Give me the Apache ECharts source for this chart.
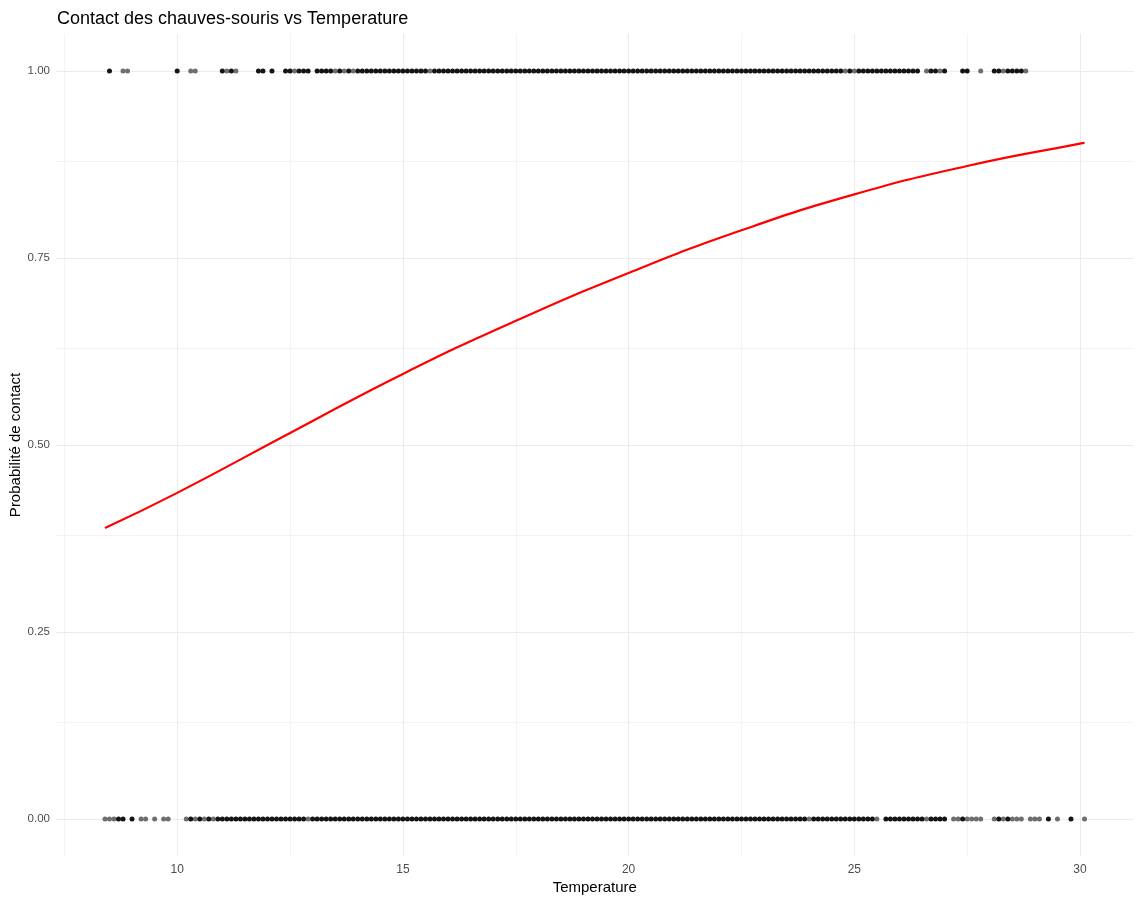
<!DOCTYPE html>
<html>
<head>
<meta charset="utf-8">
<title>Contact des chauves-souris vs Temperature</title>
<script src="https://cdn.jsdelivr.net/npm/echarts@6/dist/echarts.min.js"></script>
<style>
	html, body { margin: 0; padding: 0; background: #fff; }
	#chart { width: 1141px; height: 900px; }
</style>
</head>
<body>
<div id="chart"></div>
<script>
// temperatures des contacts (=1), en dixièmes de degré
var contactT10 = [
	85, 88, 89, 100, 103, 104, 110, 111, 112, 113, 118, 119, 121,
	124, 125, 126, 127, 128, 129,
	131, 132, 133, 134, 135, 136, 137, 138, 139, 140,
	141, 142, 143, 144, 145, 146, 147, 148, 149, 150,
	151, 152, 153, 154, 155, 156, 157, 158, 159, 160,
	161, 162, 163, 164, 165, 166, 167, 168, 169, 170,
	171, 172, 173, 174, 175, 176, 177, 178, 179, 180,
	181, 182, 183, 184, 185, 186, 187, 188, 189, 190,
	191, 192, 193, 194, 195, 196, 197, 198, 199, 200,
	201, 202, 203, 204, 205, 206, 207, 208, 209, 210,
	211, 212, 213, 214, 215, 216, 217, 218, 219, 220,
	221, 222, 223, 224, 225, 226, 227, 228, 229, 230,
	231, 232, 233, 234, 235, 236, 237, 238, 239, 240,
	241, 242, 243, 244, 245, 246, 247, 248, 249, 250,
	251, 252, 253, 254, 255, 256, 257, 258, 259, 260,
	261, 262, 263, 264,
	266, 267, 268, 269, 270, 274, 275, 278,
	281, 282, 283, 284, 285, 286, 287, 288
];
// celles qui n'apparaissent qu'une fois (points clairs)
var contactSingleT10 = [88, 89, 103, 104, 111, 113, 126, 135, 137, 139, 156, 248, 250, 266, 269, 278, 283, 288];

// temperatures sans contact (=0)
var noContactT10 = [
	84, 85, 86, 87, 88, 90, 92, 93, 95, 97, 98,
	102, 103, 104, 105, 106, 107, 108, 109, 110,
	111, 112, 113, 114, 115, 116, 117, 118, 119, 120,
	121, 122, 123, 124, 125, 126, 127, 128, 129, 130,
	131, 132, 133, 134, 135, 136, 137, 138, 139, 140,
	141, 142, 143, 144, 145, 146, 147, 148, 149, 150,
	151, 152, 153, 154, 155, 156, 157, 158, 159, 160,
	161, 162, 163, 164, 165, 166, 167, 168, 169, 170,
	171, 172, 173, 174, 175, 176, 177, 178, 179, 180,
	181, 182, 183, 184, 185, 186, 187, 188, 189, 190,
	191, 192, 193, 194, 195, 196, 197, 198, 199, 200,
	201, 202, 203, 204, 205, 206, 207, 208, 209, 210,
	211, 212, 213, 214, 215, 216, 217, 218, 219, 220,
	221, 222, 223, 224, 225, 226, 227, 228, 229, 230,
	231, 232, 233, 234, 235, 236, 237, 238, 239, 240,
	241, 242, 243, 244, 245, 246, 247, 248, 249, 250,
	251, 252, 253, 254, 255,
	257, 258, 259, 260, 261, 262, 263, 264, 265, 266,
	267, 268, 269, 270,
	272, 273, 274, 275, 276, 277, 278,
	281, 282, 283, 284, 285, 286, 287,
	289, 290, 291, 293, 295, 298, 301
];
var noContactSingleT10 = [84, 85, 86, 92, 93, 95, 97, 98, 102, 104, 106, 108, 129, 240, 255, 266,
	272, 273, 275, 276, 277, 278, 281, 283, 285, 286, 287, 289, 290, 291, 295, 301];

// courbe logistique
var curveTemp = [8.4, 10, 12.5, 15, 17.5, 20, 22.5, 25, 27.5, 30, 30.1];
var curveProb = [0.389, 0.436, 0.516, 0.595, 0.666, 0.730, 0.787, 0.835, 0.873, 0.903, 0.904];

// graduations
var xMajor = [10, 15, 20, 25, 30];
var xMinor = [7.5, 12.5, 17.5, 22.5, 27.5];
var yMajor = [0, 0.25, 0.5, 0.75, 1];
var yMinor = [0.125, 0.375, 0.625, 0.875];

function splitPoints(t10, singles, y) {
	var many = [], one = [];
	for (var i = 0; i < t10.length; i++) {
		var p = [t10[i] / 10, y];
		if (singles.indexOf(t10[i]) >= 0) one.push(p); else many.push(p);
	}
	return { many: many, one: one };
}

var c1 = splitPoints(contactT10, contactSingleT10, 1);
var c0 = splitPoints(noContactT10, noContactSingleT10, 0);

function gl(key, v, color) {
	var d = { lineStyle: { color: color, width: 1, type: "solid" } };
	d[key] = v;
	return d;
}
var gridLines = [];
xMinor.forEach(function (v) { gridLines.push(gl("xAxis", v, "#f3f3f3")); });
yMinor.forEach(function (v) { gridLines.push(gl("yAxis", v, "#f3f3f3")); });
xMajor.forEach(function (v) { gridLines.push(gl("xAxis", v, "#ebebeb")); });
yMajor.forEach(function (v) { gridLines.push(gl("yAxis", v, "#ebebeb")); });

var curveData = curveTemp.map(function (t, i) { return [t, curveProb[i]]; });

var font = "'Liberation Sans', Arial, sans-serif";

function pointSeries(data, color) {
	return {
		type: "scatter",
		data: data,
		symbol: "circle",
		symbolSize: 5,
		itemStyle: { color: color, opacity: 1, borderWidth: 0 },
		emphasis: { disabled: true },
		silent: true,
		z: 3
	};
}

var myChart = echarts.init(document.getElementById("chart"));
myChart.setOption({
	animation: false,
	backgroundColor: "#fff",
	title: {
		text: "Contact des chauves-souris vs Temperature",
		left: 52,
		top: 5,
		textStyle: { fontFamily: font, fontSize: 18, fontWeight: "normal", color: "#000" }
	},
	grid: { left: 56, right: 7.5, top: 33.6, bottom: 43.6, containLabel: false, outerBoundsMode: "none" },
	xAxis: {
		type: "value",
		min: 7.315,
		max: 31.185,
		name: "Temperature",
		nameLocation: "middle",
		nameGap: 20,
		nameTextStyle: { fontFamily: font, fontSize: 15, color: "#000" },
		axisLine: { show: false },
		axisTick: { show: false },
		splitLine: { show: false },
		axisLabel: {
			customValues: xMajor,
			margin: 7,
			fontFamily: font,
			fontSize: 12,
			color: "#4d4d4d"
		}
	},
	yAxis: {
		type: "value",
		min: -0.05,
		max: 1.05,
		name: "Probabilité de contact",
		nameLocation: "middle",
		nameGap: 33,
		nameMoveOverlap: false,
		nameRotate: 90,
		nameTextStyle: { fontFamily: font, fontSize: 15, color: "#000" },
		axisLine: { show: false },
		axisTick: { show: false },
		splitLine: { show: false },
		axisLabel: {
			customValues: yMajor,
			margin: 6,
			fontFamily: font,
			fontSize: 11.5,
			color: "#4d4d4d",
			formatter: function (v) { return v.toFixed(2); }
		}
	},
	series: [
		{
			type: "line",
			data: [],
			silent: true,
			z: 0,
			markLine: {
				silent: true,
				z: 0,
				symbol: "none",
				label: { show: false },
				emphasis: { disabled: true },
				animation: false,
				data: gridLines
			}
		},
		pointSeries(c1.one, "#6e6e6e"),
		pointSeries(c1.many, "#141414"),
		pointSeries(c0.one, "#6e6e6e"),
		pointSeries(c0.many, "#141414"),
		{
			type: "line",
			data: curveData,
			smooth: true,
			symbol: "none",
			showSymbol: false,
			silent: true,
			emphasis: { disabled: true },
			lineStyle: { color: "#ff0000", width: 2.2 },
			z: 4
		}
	]
});
</script>
</body>
</html>
